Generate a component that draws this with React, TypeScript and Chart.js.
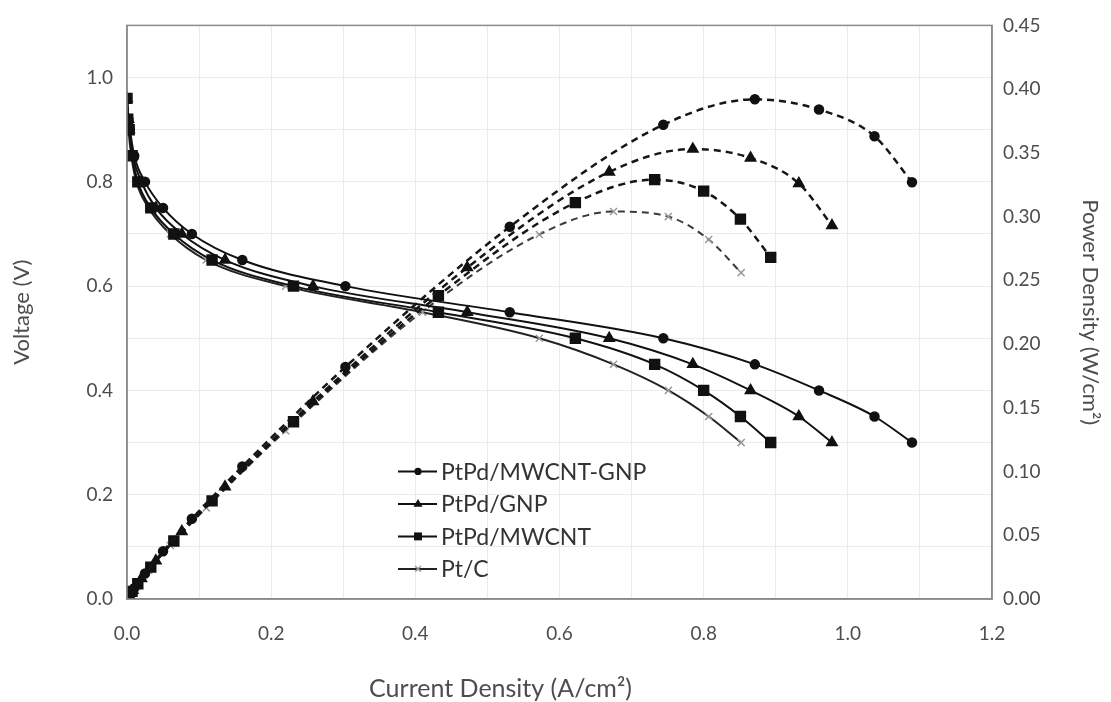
import React, { useEffect, useRef } from 'react';
import { Chart, registerables } from 'chart.js';

Chart.register(...registerables);

// ---- data ----
const SERIES_NAMES = ['PtPd/MWCNT-GNP', 'PtPd/GNP', 'PtPd/MWCNT', 'Pt/C'];

const VOLTAGE = [0.96, 0.92, 0.9, 0.85, 0.8, 0.75, 0.7, 0.65, 0.6, 0.55, 0.5, 0.45, 0.4, 0.35, 0.3];

const CURRENT_MWCNT_GNP = [0, 0.002, 0.004, 0.01, 0.025, 0.05, 0.09, 0.16, 0.303, 0.531, 0.744, 0.871, 0.96, 1.037, 1.089];
const CURRENT_GNP = [0, 0.002, 0.003, 0.008, 0.02, 0.04, 0.076, 0.136, 0.258, 0.472, 0.669, 0.785, 0.865, 0.932, 0.978];
const CURRENT_MWCNT = [0, 0.001, 0.003, 0.007, 0.015, 0.033, 0.065, 0.118, 0.231, 0.432, 0.622, 0.732, 0.8, 0.851, 0.893];
const CURRENT_PTC = [0, 0.001, 0.002, 0.006, 0.013, 0.03, 0.06, 0.11, 0.22, 0.41, 0.572, 0.675, 0.751, 0.807, 0.852];

const POWER_MWCNT_GNP = [0, 0.0018, 0.0036, 0.0085, 0.02, 0.0375, 0.063, 0.104, 0.182, 0.292, 0.372, 0.392, 0.384, 0.363, 0.327];
const POWER_GNP = [0, 0.0018, 0.0027, 0.0068, 0.016, 0.03, 0.053, 0.088, 0.155, 0.26, 0.335, 0.353, 0.346, 0.326, 0.293];
const POWER_MWCNT = [0, 0.0009, 0.0027, 0.006, 0.012, 0.025, 0.0455, 0.077, 0.139, 0.238, 0.311, 0.329, 0.32, 0.298, 0.268];
const POWER_PTC = [0, 0.0009, 0.0018, 0.0051, 0.0104, 0.0225, 0.042, 0.0715, 0.132, 0.2255, 0.286, 0.304, 0.3, 0.282, 0.256];

const X_MIN = 0, X_MAX = 1.2, X_STEP = 0.1, X_LABEL_STEP = 0.2;
const V_MIN = 0, V_MAX = 1.1, V_STEP = 0.1, V_LABEL_STEP = 0.2;
const P_MIN = 0, P_MAX = 0.45, P_STEP = 0.05;

const X_TITLE = 'Current Density (A/cm²)';
const Y_TITLE = 'Voltage (V)';
const Y1_TITLE = 'Power Density (W/cm²)';

// ---- styles ----
const FONT = 'Lato';
const TEXT = '#4d4d4d';
const STYLES = [
  { pointStyle: 'circle', radius: 4.5, color: '#111', pointColor: '#111' },
  { pointStyle: 'triangle', radius: 6, color: '#111', pointColor: '#111' },
  { pointStyle: 'rect', radius: 7, color: '#111', pointColor: '#111' },
  { pointStyle: 'crossRot', radius: 5, color: '#222', pointColor: '#9a9a9a' },
];

const CURRENTS = [CURRENT_MWCNT_GNP, CURRENT_GNP, CURRENT_MWCNT, CURRENT_PTC];
const POWERS = [POWER_MWCNT_GNP, POWER_GNP, POWER_MWCNT, POWER_PTC];

const onStep = (v: number, step: number) => Math.abs(v / step - Math.round(v / step)) < 1e-6;

function drawMarker(ctx: CanvasRenderingContext2D, style: string, r: number, x: number, y: number) {
  ctx.beginPath();
  if (style === 'circle') {
    ctx.arc(x, y, r, 0, Math.PI * 2);
    ctx.fill();
  } else if (style === 'triangle') {
    ctx.moveTo(x, y - r);
    ctx.lineTo(x + r * 0.95, y + r * 0.6);
    ctx.lineTo(x - r * 0.95, y + r * 0.6);
    ctx.closePath();
    ctx.fill();
  } else if (style === 'rect') {
    const s = r * Math.SQRT1_2;
    ctx.rect(x - s, y - s, 2 * s, 2 * s);
    ctx.fill();
  } else {
    const d = r * Math.SQRT1_2;
    ctx.moveTo(x - d, y - d);
    ctx.lineTo(x + d, y + d);
    ctx.moveTo(x - d, y + d);
    ctx.lineTo(x + d, y - d);
    ctx.stroke();
  }
}

const overlayPlugin = {
  id: 'overlay',
  afterDraw(chart: any) {
    const { ctx, chartArea } = chart;
    const { left, right, top, bottom } = chartArea;
    ctx.save();
    // frame
    ctx.strokeStyle = '#8a8a8a';
    ctx.lineWidth = 1.5;
    ctx.strokeRect(left, top, right - left, bottom - top);

    // x axis title
    ctx.fillStyle = TEXT;
    ctx.font = `25px ${FONT}`;
    ctx.textAlign = 'center';
    ctx.textBaseline = 'middle';
    ctx.fillText(X_TITLE, (left + right) / 2 - 59, 689);

    // legend
    const lx = left + 271;
    const ly0 = top + 446;
    const dy = 32.5;
    ctx.font = `23px ${FONT}`;
    ctx.textAlign = 'left';
    SERIES_NAMES.forEach((name, i) => {
      const y = ly0 + i * dy;
      const st = STYLES[i];
      ctx.strokeStyle = st.color;
      ctx.lineWidth = 2;
      ctx.setLineDash([]);
      ctx.beginPath();
      ctx.moveTo(lx, y);
      ctx.lineTo(lx + 39, y);
      ctx.stroke();
      ctx.fillStyle = st.pointColor;
      ctx.strokeStyle = st.pointColor;
      ctx.lineWidth = 1.5;
      drawMarker(ctx, st.pointStyle, st.radius * 0.8, lx + 20, y);
      ctx.fillStyle = '#333333';
      ctx.fillText(name, lx + 43, y + 1);
    });
    ctx.restore();
  },
};

export default function App() {
  const ref = useRef<HTMLCanvasElement | null>(null);

  useEffect(() => {
    if (!ref.current) return;
    const datasets: any[] = [];
    SERIES_NAMES.forEach((name, i) => {
      const st = STYLES[i];
      datasets.push({
        label: name,
        data: CURRENTS[i].map((x, k) => ({ x, y: VOLTAGE[k] })),
        yAxisID: 'y',
        borderColor: st.color,
        borderWidth: 2,
        pointStyle: st.pointStyle,
        pointRadius: st.radius,
        pointBackgroundColor: st.pointColor,
        pointBorderColor: st.pointColor,
        pointBorderWidth: 1.5,
        cubicInterpolationMode: 'monotone',
        fill: false,
      });
      datasets.push({
        label: name + ' power',
        data: CURRENTS[i].map((x, k) => ({ x, y: POWERS[i][k] })),
        yAxisID: 'y1',
        borderColor: i === 3 ? '#3a3a3a' : '#161616',
        borderWidth: i === 3 ? 2 : 2.5,
        borderDash: [7, 5],
        pointStyle: st.pointStyle,
        pointRadius: st.radius,
        pointBackgroundColor: st.pointColor,
        pointBorderColor: st.pointColor,
        pointBorderWidth: 1.5,
        cubicInterpolationMode: 'monotone',
        fill: false,
      });
    });

    const tickFont = { family: FONT, size: 19 };
    const titleFont = { family: FONT, size: 22 };
    const chart = new Chart(ref.current, {
      type: 'line',
      data: { datasets },
      options: {
        animation: false,
        responsive: false,
        maintainAspectRatio: false,
        layout: { padding: { top: 22, left: 0, right: 0, bottom: 0 } },
        plugins: { legend: { display: false }, tooltip: { enabled: false } },
        scales: {
          x: {
            type: 'linear',
            min: X_MIN,
            max: X_MAX,
            afterFit: (s: any) => { s.height = 103; },
            ticks: {
              stepSize: X_STEP,
              padding: 23,
              color: TEXT,
              font: tickFont,
              maxRotation: 0,
              autoSkip: false,
              callback: (v: any) => (onStep(Number(v), X_LABEL_STEP) ? Number(v).toFixed(1) : ''),
            },
            grid: { color: '#ebebeb', drawTicks: false, lineWidth: 1 },
            border: { color: '#8a8a8a', width: 1.5 },
          },
          y: {
            type: 'linear',
            position: 'left',
            min: V_MIN,
            max: V_MAX,
            afterFit: (s: any) => { s.width = 127; },
            ticks: {
              stepSize: V_STEP,
              padding: 14,
              color: TEXT,
              font: tickFont,
              autoSkip: false,
              callback: (v: any) => (onStep(Number(v), V_LABEL_STEP) ? Number(v).toFixed(1) : ''),
            },
            title: { display: true, text: Y_TITLE, color: TEXT, font: titleFont, padding: { top: 9, bottom: 0 } },
            grid: { color: '#ebebeb', drawTicks: false, lineWidth: 1 },
            border: { color: '#8a8a8a', width: 1.5 },
          },
          y1: {
            type: 'linear',
            position: 'right',
            min: P_MIN,
            max: P_MAX,
            afterFit: (s: any) => { s.width = 119; },
            ticks: {
              stepSize: P_STEP,
              padding: 11,
              color: TEXT,
              font: tickFont,
              autoSkip: false,
              callback: (v: any) => Number(v).toFixed(2),
            },
            title: { display: true, text: Y1_TITLE, color: TEXT, font: titleFont, padding: { top: 8, bottom: 0 } },
            grid: { display: false, drawTicks: false },
            border: { color: '#8a8a8a', width: 1.5 },
          },
        },
      } as any,
      plugins: [overlayPlugin],
    });
    return () => chart.destroy();
  }, []);

  return (
    <div style={{ position: 'fixed', left: 0, top: 0, width: 1111, height: 702, background: '#fff' }}>
      <canvas ref={ref} width={1111} height={702} style={{ width: 1111, height: 702 }} />
    </div>
  );
}
